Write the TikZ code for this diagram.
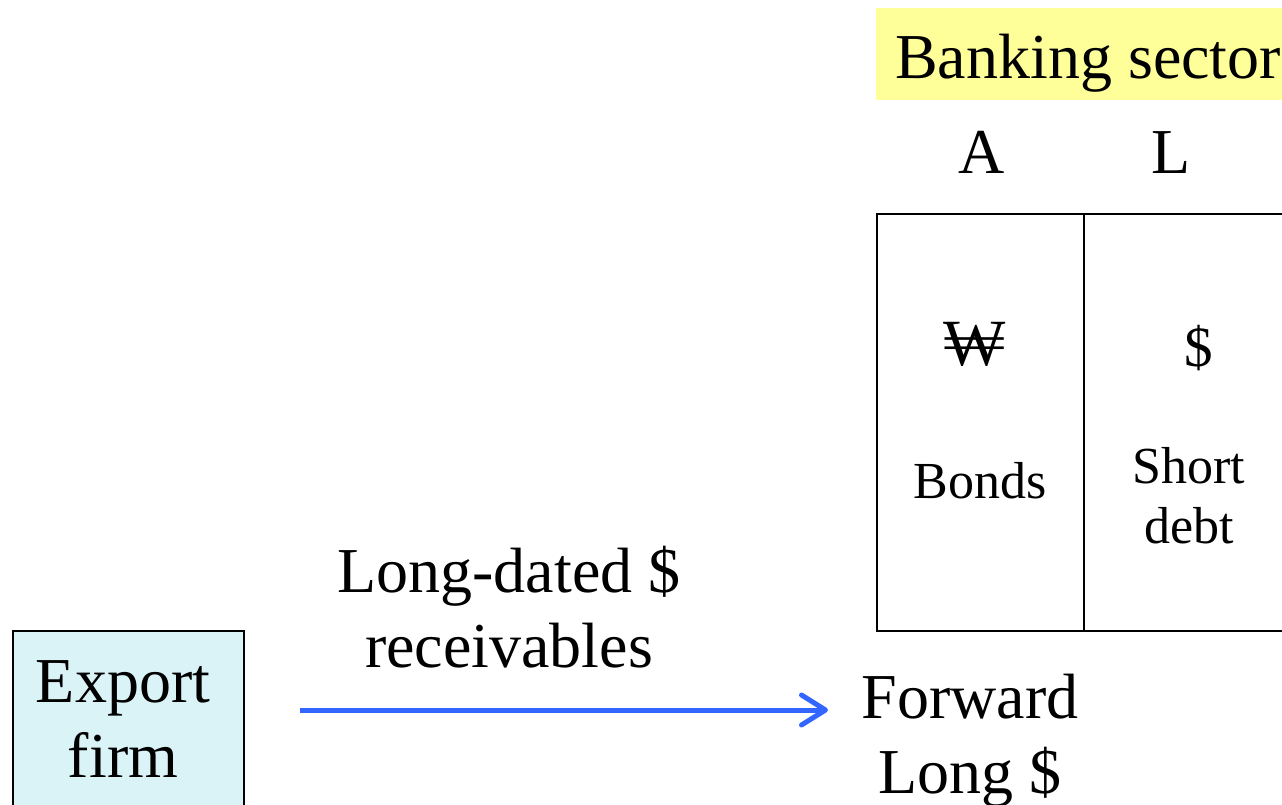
\documentclass[tikz,border=0pt]{standalone}
\usepackage{fontspec}
\setmainfont{Liberation Serif}
\usetikzlibrary{arrows.meta}
\definecolor{bankyellow}{HTML}{FFFF99}
\definecolor{firmcyan}{HTML}{DAF3F7}
\definecolor{flowblue}{HTML}{3366FF}
\tikzset{
  bigtext/.style={font=\fontsize{64}{75}\selectfont, inner sep=0pt, align=center, anchor=base},
  smalltext/.style={font=\fontsize{52}{60}\selectfont, inner sep=0pt, align=center, anchor=base},
  panel/.style={draw=black, line width=2pt, anchor=north west, inner sep=0pt},
  flow/.style={draw=flowblue, line width=5pt,
    -{Straight Barb[length=24pt, width=30pt, line cap=round, line join=round]}}
}
\begin{document}
\begin{tikzpicture}[x=1pt, y=-1pt]
\useasboundingbox (0,0) rectangle (1282,804);
\clip (0,0) rectangle (1282,804);

% banking sector heading
\node[fill=bankyellow, anchor=north west, inner sep=0pt,
      minimum width=440pt, minimum height=92pt] (bank) at (876,8) {};
\node[bigtext, anchor=base west] (banklabel) at (895,78) {Banking sector};

% asset / liability headings
\node[bigtext] (assets) at (982,173) {A};
\node[bigtext] (liabs) at (1171,173) {L};

% balance sheet with its divider
\node[panel, minimum width=440pt, minimum height=417pt] (sheet) at (876,213) {};
\coordinate (divtop) at (1084,213);
\coordinate (divbot) at (1084,630);
\draw[line width=2pt] (divtop) -- (divbot);

% currency of each side and the items (multi-line labels sit on their last baseline)
\node[smalltext, font=\fontsize{66}{70}\selectfont] (won) at (975,365) {₩};
\node[smalltext, font=\fontsize{57}{60}\selectfont] (dollar) at (1199,366) {\$};
\node[smalltext] (bonds) at (980,498) {Bonds};
\node[smalltext] (shortdebt) at (1189,543) {Short\\debt};

% export firm and its receivables
\node[panel, fill=firmcyan, minimum width=231pt, minimum height=200pt] (firm) at (12,630) {};
\node[bigtext] (firmlabel) at (123,777) {Export\\firm};

\node[bigtext] (recv) at (509,667) {Long-dated \$\\receivables};
\node[bigtext] (fwd) at (970,793) {Forward\\Long \$};

\coordinate (flowstart) at (300,710);
\coordinate (flowend) at (828,710);
\draw[flow] (flowstart) -- (flowend);
\end{tikzpicture}
\end{document}
